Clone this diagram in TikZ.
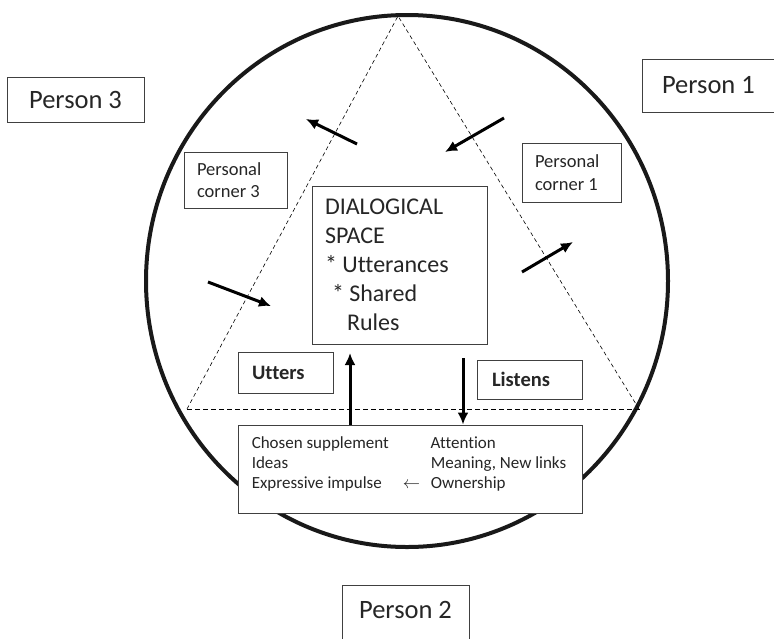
\documentclass[tikz,border=0pt]{standalone}
\usepackage{fontspec}
\setmainfont{Carlito}[Ligatures=NoCommon]
\usetikzlibrary{arrows.meta,positioning}
\newcommand\plainspaces{\spaceskip=0pt\relax\xspaceskip=0pt\relax}

\begin{document}
\begin{tikzpicture}[x=1pt,y=-1pt,
box/.style={draw=black!75,line width=0.9pt,fill=white,text=black!85,inner ysep=0pt,execute at begin node=\plainspaces},
corner/.style={box,font=\fontsize{18.5}{22.5}\selectfont,align=left,inner xsep=13pt},
person/.style={box,font=\fontsize{26.5}{32}\selectfont},
side/.style={dash pattern=on 4pt off 3pt,line width=0.6pt},
flow/.style={line width=3pt,-{Latex[length=12pt,width=11pt]}}]
\useasboundingbox (0,0) rectangle (774,638);
\draw[line width=4pt,black!90](407,281)ellipse[x radius=261pt,y radius=266pt];
\coordinate (apex) at (398,16);
\coordinate (left) at (187,409);
\coordinate (right) at (639,409);
\draw[side](left)--(apex)--(right);
\draw[dash pattern=on 5pt off 3pt,line width=0.8pt](left)--([xshift=3pt]right);
\node[person,minimum width=137pt,minimum height=45pt] (person3) at (75.5,99.5) {Person 3};
\node[person,align=left,text width=120pt,inner xsep=20pt,minimum height=53pt] (person1) at (722,85.5) {Person 1};
\node[person,minimum width=127pt,minimum height=60pt,text depth=10pt] (person2) at (405.5,615) {Person 2};
\node[corner,text width=77pt,minimum height=56pt] (corner3) at (235.5,180) {Personal\\corner 3};
\node[corner,text width=73pt,minimum height=59pt] (corner1) at (571.5,172.5) {Personal\\corner 1};
\node[box,font=\fontsize{24}{29}\selectfont,align=left,text width=149pt,inner xsep=13pt,minimum height=158pt] (space) at (399.5,265) {DIALOGICAL\\SPACE\\{}* Utterances\\\hspace*{7pt}* Shared\\\hspace*{22pt}Rules};
\node[box,font=\bfseries\fontsize{20.5}{24}\selectfont,align=left,text width=67pt,inner xsep=14pt,minimum height=41pt] (utters) at (285.5,372.5) {Utters};
\node[box,font=\bfseries\fontsize{20.5}{24}\selectfont,align=left,text width=75pt,inner xsep=15pt,minimum height=39pt] (listens) at (529.5,379.5) {Listens};
\node[box,minimum width=344pt,minimum height=88pt] (base) at (410,469) {};
\node[anchor=north west,inner sep=0pt,text=black!85,font=\fontsize{17}{20}\selectfont] (baselist) at ([xshift=14pt,yshift=-9.5pt]base.north west) {\begin{tabular}{@{}p{148pt}@{}p{31pt}@{}l@{}}
Chosen supplement & & Attention\\
Ideas & & Meaning, New links\\
Expressive impulse & \hspace*{3pt}$\leftarrow$ & Ownership
\end{tabular}};
\coordinate (uttertip) at (350,353);
\coordinate (listenfrom) at (463,358);
\draw[flow](base.north-|uttertip)--(uttertip);
\draw[flow](listenfrom)--(listenfrom|-base.north);
\coordinate (leave3) at (357,144);
\coordinate (leave3tip) at (306,119);
\coordinate (enter1) at (504,118);
\coordinate (enter1tip) at (445,152);
\coordinate (enter3) at (208,282);
\coordinate (enter3tip) at (271,306);
\coordinate (leave1) at (522,272);
\coordinate (leave1tip) at (573,242);
\draw[flow](leave3)--(leave3tip);
\draw[flow](enter1)--(enter1tip);
\draw[flow](enter3)--(enter3tip);
\draw[flow](leave1)--(leave1tip);
\end{tikzpicture}
\end{document}
